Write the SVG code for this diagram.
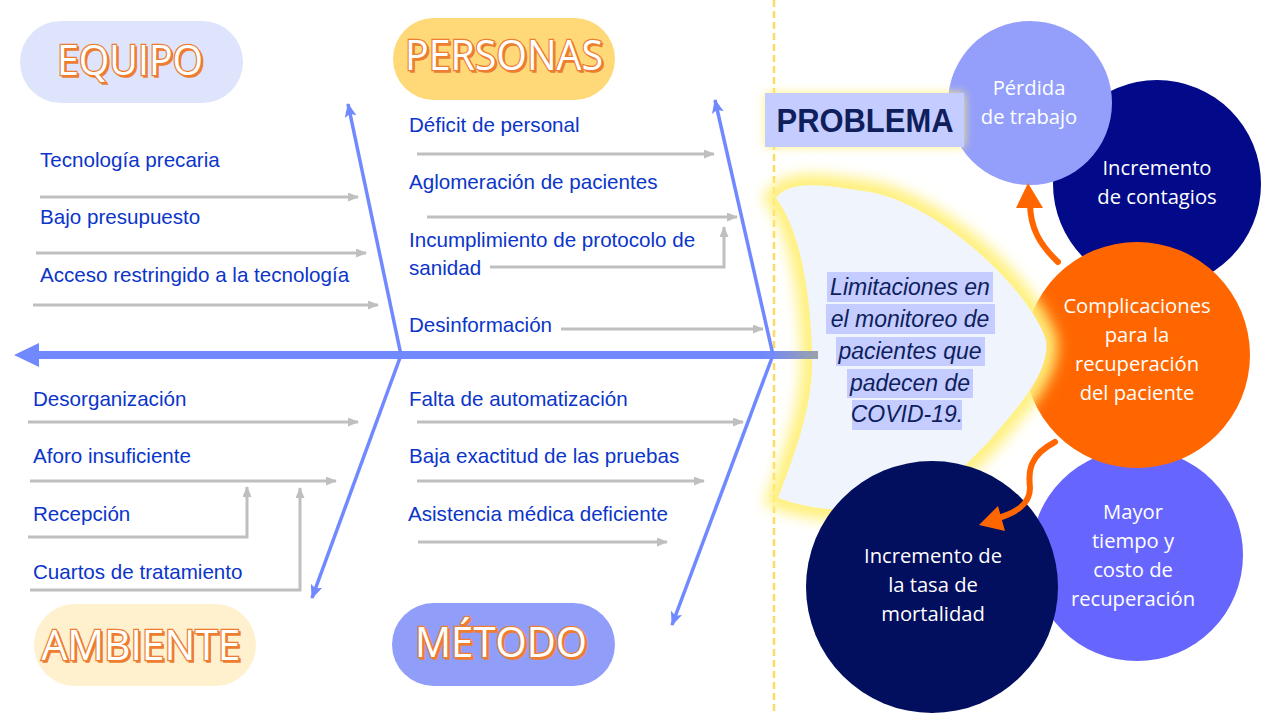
<svg xmlns="http://www.w3.org/2000/svg" width="1265" height="713" viewBox="0 0 1265 713">
<style>
.lbl{font-family:"Liberation Sans",Arial,sans-serif;font-size:20.6px;fill:#0B35C9}
.pill{font-family:"Open Sans","Noto Sans",sans-serif;font-size:42px;text-anchor:middle}
.pshadow{fill:#ED7D31;stroke:#ED7D31;stroke-width:1.5}
.pmain{fill:#fff;stroke:#ED7D31;stroke-width:2.5;paint-order:stroke}
.ctext{font-family:"Open Sans","Noto Sans",sans-serif;font-size:20.2px;fill:#fff;text-anchor:middle}
.gray{stroke:#BFBFBF;stroke-width:3;fill:none;marker-end:url(#ga)}
.bone{stroke:#7189FF;stroke-width:3.5;fill:none;marker-end:url(#ba)}
.hl{fill:#C5CCFF}
.head{font-family:"Liberation Sans",Arial,sans-serif;font-style:italic;font-size:23px;fill:#0E1F5C;text-anchor:middle}
.oarrow{stroke:#FF6600;stroke-width:6;fill:none;stroke-linecap:round}
</style>
<defs>
<marker id="ga" markerUnits="userSpaceOnUse" markerWidth="11" markerHeight="9" refX="10" refY="4.5" orient="auto"><path d="M0,0 L11,4.5 L0,9 Z" fill="#BFBFBF"/></marker>
<marker id="ba" markerUnits="userSpaceOnUse" markerWidth="14" markerHeight="12" refX="13" refY="6" orient="auto"><path d="M0,0 L14,6 L0,12 L3,6 Z" fill="#7189FF"/></marker>
<linearGradient id="spineEnd" x1="38" y1="0" x2="818" y2="0" gradientUnits="userSpaceOnUse">
<stop offset="0.93" stop-color="#7189FF"/><stop offset="1" stop-color="#9AA0A8"/>
</linearGradient>
<filter id="blur8" x="-20%" y="-20%" width="140%" height="140%"><feGaussianBlur stdDeviation="7"/></filter>
<filter id="blur5" x="-30%" y="-60%" width="160%" height="220%"><feGaussianBlur stdDeviation="5"/></filter>
</defs>
<rect width="1265" height="713" fill="#fff"/>

<!-- dashed divider -->
<line x1="774" y1="0" x2="774" y2="713" stroke="#FFD966" stroke-width="2.5" stroke-dasharray="7,4"/>

<!-- effect circles -->
<g id="node-mayor"><circle cx="1137" cy="555" r="106" fill="#6666FF"/>
<text class="ctext" x="1133" y="519">Mayor</text><text class="ctext" x="1133" y="548">tiempo y</text><text class="ctext" x="1133" y="577">costo de</text><text class="ctext" x="1133" y="606">recuperación</text></g>
<g id="node-contagios"><circle cx="1157" cy="184" r="104" fill="#020A8A"/>
<text class="ctext" x="1157" y="175">Incremento</text><text class="ctext" x="1157" y="204">de contagios</text></g>
<g id="node-perdida"><circle cx="1030" cy="103" r="82" fill="#939FFB"/>
<text class="ctext" x="1029" y="95">Pérdida</text><text class="ctext" x="1029" y="124">de trabajo</text></g>
<g id="node-complicaciones"><circle cx="1137" cy="355" r="113" fill="#FF6600"/>
<text class="ctext" x="1137" y="313">Complicaciones</text><text class="ctext" x="1137" y="342">para la</text><text class="ctext" x="1137" y="371">recuperación</text><text class="ctext" x="1137" y="400">del paciente</text></g>

<!-- fish head -->
<g id="node-head">
<path d="M776,198 C790,178 830,186 870,192 C940,205 1030,290 1046,340 C1050,372 1020,405 990,440 C960,472 930,500 890,507 C850,513 810,510 778,498 C800,440 814,400 812,350 C810,290 800,230 776,198 Z" fill="none" stroke="#FFF07A" stroke-width="22" filter="url(#blur8)"/>
<path d="M776,198 C790,178 830,186 870,192 C940,205 1030,290 1046,340 C1050,372 1020,405 990,440 C960,472 930,500 890,507 C850,513 810,510 778,498 C800,440 814,400 812,350 C810,290 800,230 776,198 Z" fill="#F0F4FD"/>
<rect class="hl" x="827" y="272" width="166" height="30"/>
<rect class="hl" x="826" y="304" width="169" height="30"/>
<rect class="hl" x="836" y="337" width="149" height="29"/>
<rect class="hl" x="847" y="369" width="126" height="29"/>
<rect class="hl" x="852" y="400" width="110" height="30"/>
<text class="head" x="910" y="295">Limitaciones en</text>
<text class="head" x="910" y="327">el monitoreo de</text>
<text class="head" x="910" y="359">pacientes que</text>
<text class="head" x="910" y="391">padecen de</text>
<text class="head" x="907" y="422">COVID-19.</text>
</g>

<g id="node-mortalidad"><circle cx="932" cy="587" r="126" fill="#020E5E"/>
<text class="ctext" x="933" y="563">Incremento de</text><text class="ctext" x="933" y="592">la tasa de</text><text class="ctext" x="933" y="621">mortalidad</text></g>

<!-- PROBLEMA -->
<g id="node-problema">
<rect x="765" y="93" width="199" height="54" fill="#FFF07A" filter="url(#blur5)"/>
<rect x="765" y="93" width="199" height="54" fill="#C5CCFF"/>
<text x="865" y="132" font-family="Liberation Sans,Arial,sans-serif" font-weight="bold" font-size="33" fill="#0E1F5C" text-anchor="middle" textLength="177" lengthAdjust="spacingAndGlyphs">PROBLEMA</text>
</g>

<!-- category pills -->
<g id="node-equipo"><rect x="20" y="21" width="223" height="82" rx="41" fill="#DEE4FB"/>
<text class="pill pshadow" x="132" y="77" textLength="146" lengthAdjust="spacingAndGlyphs">EQUIPO</text>
<text class="pill pmain" x="130" y="75" textLength="146" lengthAdjust="spacingAndGlyphs">EQUIPO</text></g>
<g id="node-personas"><rect x="393" y="18" width="222" height="82" rx="41" fill="#FFD978"/>
<text class="pill pshadow" x="506" y="72" textLength="198" lengthAdjust="spacingAndGlyphs">PERSONAS</text>
<text class="pill pmain" x="504" y="70" textLength="198" lengthAdjust="spacingAndGlyphs">PERSONAS</text></g>
<g id="node-ambiente"><rect x="34" y="604" width="222" height="82" rx="41" fill="#FFF1CD"/>
<text class="pill pshadow" x="143" y="662" textLength="199" lengthAdjust="spacingAndGlyphs">AMBIENTE</text>
<text class="pill pmain" x="141" y="660" textLength="199" lengthAdjust="spacingAndGlyphs">AMBIENTE</text></g>
<g id="node-metodo"><rect x="392" y="603" width="223" height="83" rx="41.5" fill="#909EFA"/>
<text class="pill pshadow" x="503" y="659" textLength="172" lengthAdjust="spacingAndGlyphs">MÉTODO</text>
<text class="pill pmain" x="501" y="657" textLength="172" lengthAdjust="spacingAndGlyphs">MÉTODO</text></g>

<!-- cause labels -->
<g id="labels">
<text class="lbl" x="40" y="167">Tecnología precaria</text>
<text class="lbl" x="40" y="224">Bajo presupuesto</text>
<text class="lbl" x="40" y="282">Acceso restringido a la tecnología</text>
<text class="lbl" x="409" y="132">Déficit de personal</text>
<text class="lbl" x="409" y="189">Aglomeración de pacientes</text>
<text class="lbl" x="409" y="247">Incumplimiento de protocolo de</text>
<text class="lbl" x="409" y="275">sanidad</text>
<text class="lbl" x="409" y="332">Desinformación</text>
<text class="lbl" x="33" y="406">Desorganización</text>
<text class="lbl" x="33" y="463">Aforo insuficiente</text>
<text class="lbl" x="33" y="521">Recepción</text>
<text class="lbl" x="33" y="579">Cuartos de tratamiento</text>
<text class="lbl" x="409" y="406">Falta de automatización</text>
<text class="lbl" x="409" y="463">Baja exactitud de las pruebas</text>
<text class="lbl" x="408" y="521">Asistencia médica deficiente</text>
</g>

<!-- connectors -->
<g id="connectors">
<line x1="38" y1="355" x2="818" y2="355" stroke="url(#spineEnd)" stroke-width="8"/>
<path d="M14,355 L39,343 L39,367 Z" fill="#7189FF"/>
<line class="bone" x1="401" y1="355" x2="348" y2="104"/>
<line class="bone" x1="401" y1="355" x2="312" y2="598"/>
<line class="bone" x1="773" y1="355" x2="715" y2="100"/>
<line class="bone" x1="773" y1="355" x2="672" y2="625"/>
<line class="gray" x1="40" y1="197" x2="358" y2="197"/>
<line class="gray" x1="36" y1="253" x2="366" y2="253"/>
<line class="gray" x1="33" y1="305" x2="378" y2="305"/>
<line class="gray" x1="417" y1="154" x2="714" y2="154"/>
<line class="gray" x1="427" y1="217" x2="737" y2="217"/>
<path class="gray" d="M490,267 L724,267 L724,227"/>
<line class="gray" x1="561" y1="329" x2="763" y2="329"/>
<line class="gray" x1="28" y1="422" x2="358" y2="422"/>
<line class="gray" x1="30" y1="481" x2="336" y2="481"/>
<path class="gray" d="M28,537 L247,537 L247,487"/>
<path class="gray" d="M30,590 L300,590 L300,488"/>
<line class="gray" x1="417" y1="422" x2="743" y2="422"/>
<line class="gray" x1="417" y1="481" x2="704" y2="481"/>
<line class="gray" x1="418" y1="542" x2="667" y2="542"/>
<path class="oarrow" d="M1058,262 C1040,245 1030,228 1030,203"/>
<path d="M1028,183 L1043,208 L1016,208 Z" fill="#FF6600"/>
<path class="oarrow" d="M1055,442 C1030,455 1028,470 1030,488 C1030,505 1015,513 998,518"/>
<path d="M979,525 L998,506 L1005,531 Z" fill="#FF6600"/>
</g>
</svg>
